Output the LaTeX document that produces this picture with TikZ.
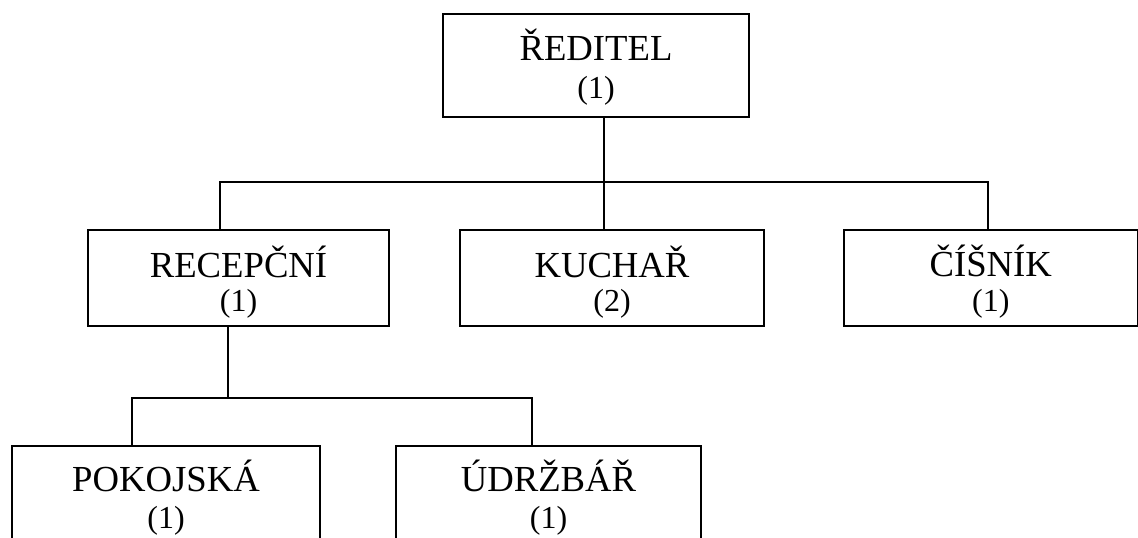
\documentclass[tikz,border=0pt]{standalone}
\usepackage{fontspec}
\setmainfont{Liberation Serif}
\usetikzlibrary{calc}
\begin{document}
\begin{tikzpicture}[x=1pt,y=-1pt,
  box/.style={draw, line width=1.6pt, rectangle, inner sep=0pt, outer sep=0pt, anchor=north west},
  rname/.style={anchor=base, inner sep=0pt, font=\fontsize{36.7}{40}\selectfont},
  rnum/.style={anchor=base, inner sep=0pt, font=\fontsize{32}{36}\selectfont},
  conn/.style={line width=1.6pt}]
\useasboundingbox (0,0) rectangle (1138,538);
\clip (0,0) rectangle (1138,538);
% boxes
\node[box, minimum width=306pt, minimum height=103pt] (dir) at (443,14) {};
\node[box, minimum width=301pt, minimum height=96pt] (rec) at (88,230) {};
\node[box, minimum width=304pt, minimum height=96pt] (kuc) at (460,230) {};
\node[box, minimum width=293.5pt, minimum height=96pt] (cis) at (844,230) {};
\node[box, minimum width=308pt, minimum height=120pt] (pok) at (12,446) {};
\node[box, minimum width=305pt, minimum height=120pt] (udr) at (396,446) {};
% texts
\node[rname] (dirA) at ($(dir.north)+(0,46)$) {ŘEDITEL};
\node[rnum]  (dirB) at ($(dir.north)+(0,84)$) {(1)};
\node[rname] (recA) at ($(rec.north)+(0,47)$) {RECEPČNÍ};
\node[rnum]  (recB) at ($(rec.north)+(0,81)$) {(1)};
\node[rname] (kucA) at ($(kuc.north)+(0,47)$) {KUCHAŘ};
\node[rnum]  (kucB) at ($(kuc.north)+(0,81)$) {(2)};
\node[rname] (cisA) at ($(cis.north)+(0,46)$) {ČÍŠNÍK};
\node[rnum]  (cisB) at ($(cis.north)+(0,81)$) {(1)};
\node[rname] (pokA) at ($(pok.north)+(0,45)$) {POKOJSKÁ};
\node[rnum]  (pokB) at ($(pok.north)+(0,82)$) {(1)};
\node[rname] (udrA) at ($(udr.north)+(0,45)$) {ÚDRŽBÁŘ};
\node[rnum]  (udrB) at ($(udr.north)+(0,82)$) {(1)};
% connectors
\coordinate (bus1) at (604,182);
\coordinate (bus1L) at (220,182);
\coordinate (bus1R) at (988,182);
\draw[conn] (dir.south -| bus1) -- (kuc.north -| bus1);
\draw[conn] (rec.north -| bus1L) -- (bus1L) -- (bus1R) -- (cis.north -| bus1R);
\coordinate (bus2) at (228,398);
\coordinate (bus2L) at (132,398);
\coordinate (bus2R) at (532,398);
\draw[conn] (rec.south -| bus2) -- (bus2);
\draw[conn] (pok.north -| bus2L) -- (bus2L) -- (bus2R) -- (udr.north -| bus2R);
\end{tikzpicture}
\end{document}
